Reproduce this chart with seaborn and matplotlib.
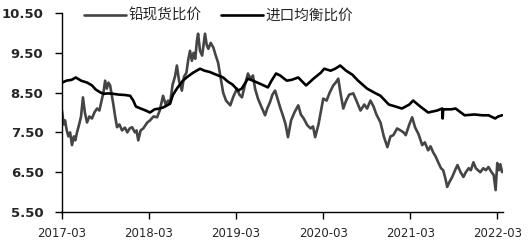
import matplotlib
matplotlib.use("Agg")
import matplotlib.pyplot as plt
import seaborn as sns
import pandas as pd

# ---- data ----
series_names = ["铅现货比价", "进口均衡比价"]
tick_labels = ["2017-03", "2018-03", "2019-03", "2020-03", "2021-03", "2022-03"]
y_ticks = [5.50, 6.50, 7.50, 8.50, 9.50, 10.50]

spot_dates = [
    "2017-03-01", "2017-03-08", "2017-03-14", "2017-03-21", "2017-03-28", "2017-04-04",
    "2017-04-12", "2017-04-20", "2017-04-26", "2017-05-03", "2017-05-12", "2017-05-20",
    "2017-05-28", "2017-06-05", "2017-06-14", "2017-06-24", "2017-07-05", "2017-07-15",
    "2017-07-26", "2017-08-05", "2017-08-16", "2017-08-22", "2017-08-29", "2017-09-05",
    "2017-09-12", "2017-09-19", "2017-10-02", "2017-10-10", "2017-10-18", "2017-10-28",
    "2017-11-08", "2017-11-20", "2017-11-30", "2017-12-10", "2017-12-20", "2018-01-01",
    "2018-01-08", "2018-01-15", "2018-01-25", "2018-02-05", "2018-02-22", "2018-03-05",
    "2018-03-20", "2018-04-04", "2018-04-15", "2018-04-29", "2018-05-10", "2018-05-20",
    "2018-05-28", "2018-06-08", "2018-06-18", "2018-06-26", "2018-07-05", "2018-07-17",
    "2018-07-26", "2018-08-05", "2018-08-12", "2018-08-20", "2018-08-28", "2018-09-04",
    "2018-09-11", "2018-09-18", "2018-09-23", "2018-10-01", "2018-10-10", "2018-10-16",
    "2018-10-22", "2018-10-29", "2018-11-05", "2018-11-15", "2018-11-26", "2018-12-05",
    "2018-12-16", "2018-12-26", "2019-01-06", "2019-01-18", "2019-02-05", "2019-02-18",
    "2019-03-05", "2019-03-15", "2019-03-26", "2019-04-08", "2019-04-20", "2019-05-01",
    "2019-05-11", "2019-05-20", "2019-06-01", "2019-06-15", "2019-07-01", "2019-07-10",
    "2019-07-21", "2019-08-01", "2019-08-12", "2019-08-22", "2019-09-02", "2019-09-15",
    "2019-09-25", "2019-10-05", "2019-10-18", "2019-11-01", "2019-11-17", "2019-11-28",
    "2019-12-10", "2019-12-25", "2020-01-08", "2020-01-18", "2020-01-27", "2020-02-10",
    "2020-03-01", "2020-03-15", "2020-03-28", "2020-04-12", "2020-04-22", "2020-05-03",
    "2020-05-12", "2020-05-24", "2020-06-05", "2020-06-18", "2020-07-05", "2020-07-18",
    "2020-08-04", "2020-08-20", "2020-09-01", "2020-09-15", "2020-09-28", "2020-10-10",
    "2020-10-27", "2020-11-10", "2020-11-25", "2020-12-08", "2020-12-20", "2021-01-05",
    "2021-01-19", "2021-02-01", "2021-02-10", "2021-02-25", "2021-03-09", "2021-03-21",
    "2021-04-05", "2021-04-20", "2021-05-01", "2021-05-15", "2021-05-25", "2021-06-05",
    "2021-06-15", "2021-06-26", "2021-07-08", "2021-07-17", "2021-07-26", "2021-08-03",
    "2021-08-12", "2021-08-24", "2021-09-05", "2021-09-15", "2021-09-28", "2021-10-10",
    "2021-10-20", "2021-11-01", "2021-11-10", "2021-11-21", "2021-12-01", "2021-12-10",
    "2021-12-20", "2022-01-01", "2022-01-12", "2022-01-23", "2022-02-05", "2022-02-14",
    "2022-02-22", "2022-03-01", "2022-03-08", "2022-03-14", "2022-03-21",
]
spot_values = [
    8.05, 7.70, 7.80, 7.55, 7.40, 7.50,
    7.18, 7.40, 7.30, 7.50, 7.70, 7.90,
    8.38, 8.00, 7.75, 7.90, 7.85, 8.00,
    8.10, 8.05, 8.35, 8.50, 8.80, 8.60,
    8.75, 8.68, 8.22, 7.90, 7.63, 7.70,
    7.55, 7.62, 7.50, 7.60, 7.63, 7.50,
    7.55, 7.30, 7.55, 7.60, 7.75, 7.80,
    7.90, 7.88, 8.05, 8.42, 8.20, 8.30,
    8.22, 8.70, 8.90, 9.18, 8.80, 8.55,
    8.90, 9.00, 9.30, 9.55, 9.30, 9.50,
    9.35, 9.80, 9.98, 9.55, 9.43, 9.70,
    9.98, 9.70, 9.60, 9.75, 9.63, 9.45,
    9.25, 8.90, 8.50, 8.30, 8.18, 8.40,
    8.60, 8.45, 8.38, 8.70, 8.98, 8.85,
    8.93, 8.60, 8.35, 8.15, 7.93, 8.10,
    8.25, 8.45, 8.55, 8.35, 8.13, 7.90,
    7.70, 7.38, 7.80, 8.00, 8.18, 7.95,
    7.85, 7.68, 7.60, 7.65, 7.38, 7.70,
    8.35, 8.30, 8.50, 8.68, 8.75, 8.85,
    8.50, 8.10, 8.30, 8.45, 8.48, 8.30,
    8.05, 8.20, 8.10, 8.30, 8.15, 7.95,
    7.75, 7.40, 7.13, 7.40, 7.43, 7.60,
    7.55, 7.50, 7.43, 7.70, 7.88, 7.63,
    7.45, 7.18, 7.25, 7.05, 7.15, 7.00,
    6.90, 6.75, 6.60, 6.55, 6.35, 6.13,
    6.25, 6.38, 6.55, 6.68, 6.50, 6.38,
    6.50, 6.60, 6.55, 6.75, 6.60, 6.55,
    6.50, 6.60, 6.55, 6.63, 6.50, 6.43,
    6.05, 6.73, 6.55, 6.70, 6.50,
]

import_dates = [
    "2017-03-01", "2017-03-20", "2017-04-10", "2017-04-28", "2017-05-20", "2017-06-15",
    "2017-07-05", "2017-07-20", "2017-08-10", "2017-08-25", "2017-09-10", "2017-10-01",
    "2017-10-25", "2017-11-20", "2017-12-12", "2017-12-25", "2018-01-05", "2018-01-25",
    "2018-02-15", "2018-03-05", "2018-03-25", "2018-04-15", "2018-05-01", "2018-05-28",
    "2018-06-10", "2018-06-26", "2018-07-21", "2018-08-10", "2018-09-02", "2018-10-01",
    "2018-10-20", "2018-11-10", "2018-12-08", "2019-01-06", "2019-01-25", "2019-02-15",
    "2019-03-10", "2019-03-25", "2019-04-20", "2019-05-11", "2019-06-18", "2019-07-13",
    "2019-07-28", "2019-08-16", "2019-09-02", "2019-09-30", "2019-10-20", "2019-11-17",
    "2019-12-20", "2020-01-20", "2020-02-20", "2020-03-05", "2020-04-01", "2020-04-20",
    "2020-05-11", "2020-06-05", "2020-07-01", "2020-07-25", "2020-09-01", "2020-10-01",
    "2020-10-27", "2020-12-01", "2020-12-29", "2021-01-25", "2021-02-25", "2021-03-13",
    "2021-04-12", "2021-05-15", "2021-06-22", "2021-07-13", "2021-07-15", "2021-07-17",
    "2021-08-20", "2021-09-07", "2021-10-15", "2021-11-25", "2021-12-28", "2022-01-23",
    "2022-02-20", "2022-03-05", "2022-03-21",
]
import_values = [
    8.75, 8.80, 8.82, 8.88, 8.80, 8.75,
    8.68, 8.58, 8.50, 8.47, 8.48, 8.47,
    8.45, 8.44, 8.42, 8.30, 8.15, 8.10,
    8.05, 8.00, 8.08, 8.10, 8.13, 8.22,
    8.45, 8.60, 8.80, 8.90, 9.00, 9.10,
    9.05, 9.02, 8.95, 8.88, 8.78, 8.70,
    8.55, 8.60, 8.85, 8.80, 8.70, 8.63,
    8.80, 8.98, 8.93, 8.80, 8.82, 8.88,
    8.68, 8.85, 9.00, 9.10, 9.05, 9.10,
    9.18, 9.05, 8.95, 8.80, 8.60, 8.50,
    8.42, 8.20, 8.15, 8.10, 8.20, 8.30,
    8.15, 8.00, 8.05, 8.10, 7.85, 8.08,
    8.08, 8.10, 7.93, 7.95, 7.93, 7.93,
    7.85, 7.90, 7.93,
]

# ---- build long table ----
df = pd.concat([
    pd.DataFrame({"date": pd.to_datetime(spot_dates), "value": spot_values,
                  "series": series_names[0]}),
    pd.DataFrame({"date": pd.to_datetime(import_dates), "value": import_values,
                  "series": series_names[1]}),
], ignore_index=True)

sns.set_style("ticks")
plt.rcParams["font.family"] = ["Noto Sans CJK SC", "DejaVu Sans"]

fig = plt.figure(figsize=(5.28, 2.41), dpi=100)
ax = fig.add_axes([61.5 / 528, 1 - 212 / 241, (503 - 61.5) / 528, 199 / 241])

palette = {series_names[0]: "#454545", series_names[1]: "#000000"}
sns.lineplot(data=df, x="date", y="value", hue="series", palette=palette,
             linewidth=1.9, ax=ax, legend=True)

ax.set_ylim(5.5, 10.5)
ax.set_yticks(y_ticks)
ax.set_yticklabels([f"{v:.2f}" for v in y_ticks], fontsize=9.5, fontweight="bold",
                   family="DejaVu Sans")
tick_dates = pd.to_datetime([t + "-01" for t in tick_labels])
ax.set_xlim(pd.Timestamp("2017-02-27"), pd.Timestamp("2022-03-25"))
ax.set_xticks(tick_dates)
ax.set_xticklabels(tick_labels, fontsize=8.5, family="DejaVu Sans")
ax.tick_params(axis="y", length=5, width=1, pad=8, color="black")
ax.tick_params(axis="x", length=5, width=1, pad=6, color="black")
ax.set_xlabel("")
ax.set_ylabel("")
for s in ["top", "right"]:
    ax.spines[s].set_visible(False)
for s in ["left", "bottom"]:
    ax.spines[s].set_color("black")
    ax.spines[s].set_linewidth(1)

handles, labels = ax.get_legend_handles_labels()
ax.legend(handles, labels, loc="center left", bbox_to_anchor=(84 / 528, 1 - 16 / 241),
          bbox_transform=fig.transFigure, ncol=2, frameon=False, fontsize=10.5,
          handlelength=2.9, handletextpad=0.15, columnspacing=1.3, borderpad=0,
          borderaxespad=0)

fig.savefig("out.png", dpi=100)
